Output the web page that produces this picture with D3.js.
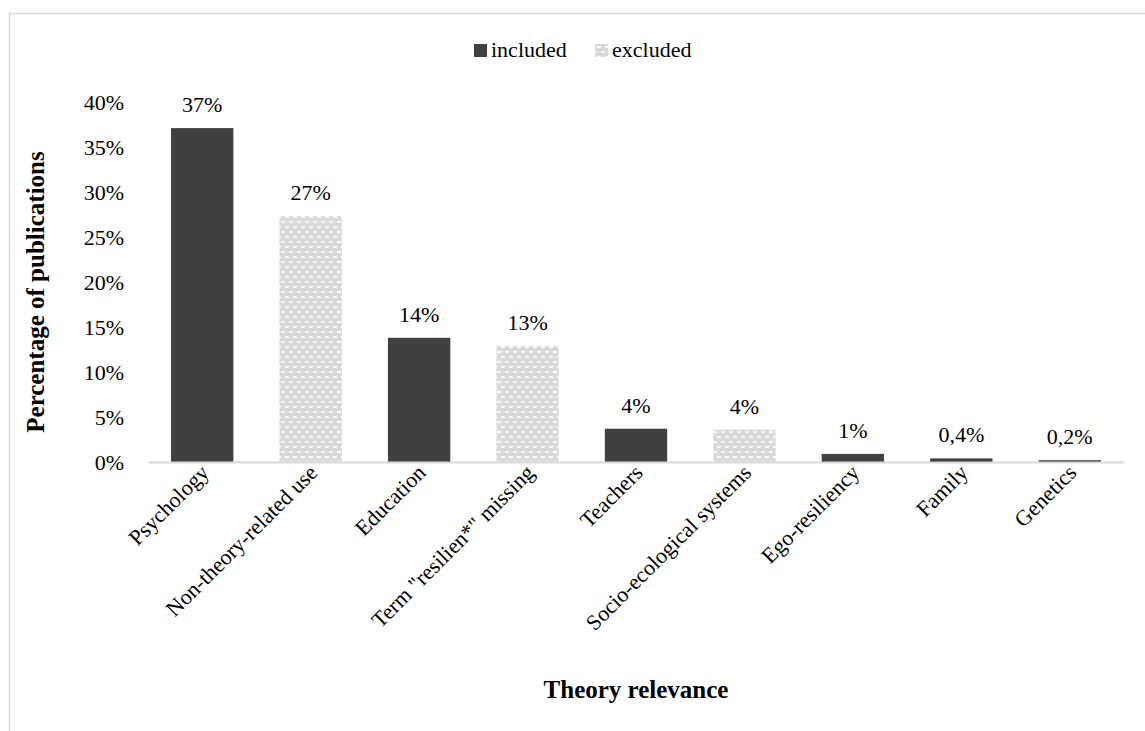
<!DOCTYPE html>
<html><head><meta charset="utf-8">
<script src="https://cdn.jsdelivr.net/npm/d3@7"></script>
<style>body{margin:0;background:#fff;} svg{display:block;} svg text{font-family:"Liberation Serif","Times New Roman",serif;}</style>
</head><body>
<svg id="c" width="1145" height="731"></svg>
<script>
const categories = ["Psychology","Non-theory-related use","Education","Term \"resilien*\" missing","Teachers","Socio-ecological systems","Ego-resiliency","Family","Genetics"];
const values = [37.1, 27.3, 13.8, 12.9, 3.7, 3.6, 0.9, 0.4, 0.2];
const valueLabels = ["37%","27%","14%","13%","4%","4%","1%","0,4%","0,2%"];
const groups = ["included","excluded","included","excluded","included","excluded","included","included","included"];
const yTicks = [0,5,10,15,20,25,30,35,40];
const legendItems = ["included","excluded"];

const svg = d3.select("#c");
const defs = svg.append("defs");
const pat = defs.append("pattern").attr("id","brick").attr("patternUnits","userSpaceOnUse").attr("width",8).attr("height",10);
pat.append("rect").attr("width",8).attr("height",10).attr("fill","#d9d9d9");
pat.append("rect").attr("x",1).attr("y",1).attr("width",4).attr("height",2).attr("fill","#f8f8f8");
pat.append("rect").attr("x",5).attr("y",6).attr("width",4).attr("height",2).attr("fill","#f8f8f8");
pat.append("rect").attr("x",-3).attr("y",6).attr("width",4).attr("height",2).attr("fill","#f8f8f8");

const fill = g => g === "included" ? "#404040" : "url(#brick)";

// frame
svg.append("rect").attr("x",9.5).attr("y",13.5).attr("width",1200).attr("height",800)
  .attr("fill","none").attr("stroke","#d9d9d9").attr("stroke-width",1.5);

const x = d3.scaleBand().domain(categories).range([148,1124]).paddingInner(0.425).paddingOuter(0.2125);
const y = d3.scaleLinear().domain([0,40]).range([462,102]);

// y axis labels
const ya = svg.append("g").attr("transform","translate(127,0)")
  .call(d3.axisLeft(y).tickValues(yTicks).tickFormat(d=>d+"%").tickSize(0));
ya.select(".domain").remove();
ya.attr("font-family",null);
ya.selectAll("text").attr("font-size",22).attr("fill","#000").attr("dy","0.35em");

// bars
svg.append("g").selectAll("rect").data(categories).join("rect")
  .attr("x",d=>x(d)).attr("width",x.bandwidth())
  .attr("y",(d,i)=>y(values[i])).attr("height",(d,i)=>y(0)-y(values[i]))
  .attr("fill",(d,i)=>fill(groups[i]));

// baseline
const xa = svg.append("g").attr("transform","translate(0,462)")
  .call(d3.axisBottom(x).tickSize(0).tickSizeOuter(0));
xa.attr("font-family",null);
xa.select(".domain").attr("stroke","#d9d9d9").attr("stroke-width",2);
xa.selectAll("text").attr("font-size",22).attr("fill","#000")
  .attr("text-anchor","end").attr("dy",null).attr("y",0)
  .attr("transform","translate(8,12) rotate(-45)");

// value labels
svg.append("g").selectAll("text").data(categories).join("text")
  .attr("x",d=>x(d)+x.bandwidth()/2).attr("y",(d,i)=>y(values[i])-16)
  .attr("text-anchor","middle").attr("font-size",22).attr("fill","#000")
  .text((d,i)=>valueLabels[i]);

// legend
const lg = svg.append("g");
const lx = [474, 595];
legendItems.forEach((g,i)=>{
  lg.append("rect").attr("x",lx[i]).attr("y",44).attr("width",13).attr("height",13).attr("fill",fill(g));
  lg.append("text").attr("x",lx[i]+17).attr("y",57).attr("font-size",22).attr("fill","#000").text(g);
});

// axis titles
svg.append("text").attr("transform","translate(44,292) rotate(-90)").attr("text-anchor","middle")
  .attr("font-size",25).attr("font-weight","bold").text("Percentage of publications");
svg.append("text").attr("x",636).attr("y",698).attr("text-anchor","middle")
  .attr("font-size",25).attr("font-weight","bold").text("Theory relevance");
</script>
</body></html>
